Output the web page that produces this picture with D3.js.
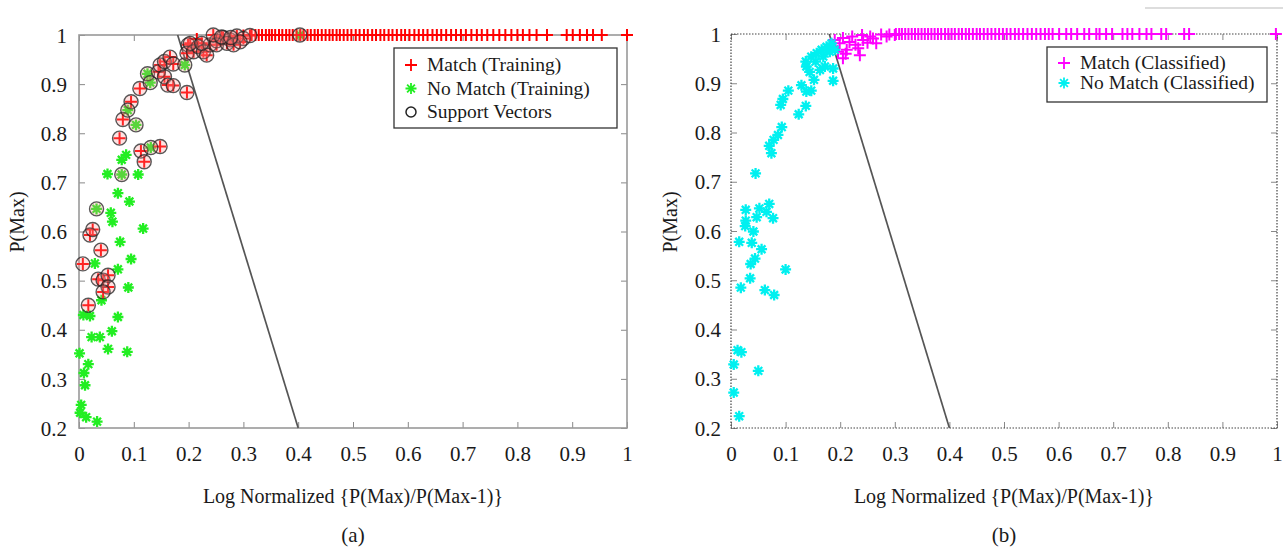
<!DOCTYPE html>
<html>
<head>
<meta charset="utf-8">
<script src="https://cdn.jsdelivr.net/npm/d3@7/dist/d3.min.js"></script>
<style>
 body { margin: 0; background: #fff; }
 svg { display: block; }
 text { font-family: "Liberation Serif", "Times New Roman", Times, serif; fill: #1a1a1a; }
 .tick line { stroke: #888; }
</style>
</head>
<body>
<svg width="1283" height="549"></svg>
<script>
// ---- data ----
const xTicks = [0, 0.1, 0.2, 0.3, 0.4, 0.5, 0.6, 0.7, 0.8, 0.9, 1];
const yTicks = [0.2, 0.3, 0.4, 0.5, 0.6, 0.7, 0.8, 0.9, 1];
const boundary = [[0.18, 1], [0.4, 0.2]];

// (a) training
const matchTraining = [
 [0.007, 0.534], [0.017, 0.45], [0.02, 0.593], [0.025, 0.604], [0.04, 0.562],
 [0.035, 0.503], [0.044, 0.501], [0.053, 0.511], [0.053, 0.487], [0.044, 0.477],
 [0.074, 0.79], [0.08, 0.828], [0.095, 0.864], [0.111, 0.891], [0.113, 0.764],
 [0.119, 0.742], [0.148, 0.773], [0.145, 0.925], [0.148, 0.939], [0.156, 0.946],
 [0.166, 0.955], [0.172, 0.941], [0.156, 0.915], [0.162, 0.898], [0.172, 0.897],
 [0.197, 0.883], [0.199, 0.98], [0.197, 0.963], [0.209, 0.966], [0.218, 0.976],
 [0.227, 0.966], [0.239, 0.98], [0.251, 0.988], [0.263, 0.995], [0.276, 0.99],
 [0.288, 0.998], [0.3, 0.993], [0.312, 0.999], [0.203, 0.983], [0.233, 0.959],
 [0.251, 0.98], [0.27, 0.983], [0.282, 0.98], [0.294, 0.986], [0.224, 0.983],
 [0.245, 1.0], [0.26, 0.996], [0.277, 0.995], [0.3, 0.999], [0.215, 0.992]
];
const matchTrainingBandX = [
 0.315, 0.322, 0.328, 0.334, 0.341, 0.347, 0.352, 0.358, 0.365, 0.371, 0.378, 0.384,
 0.39, 0.397, 0.404, 0.41, 0.417, 0.423, 0.43, 0.436, 0.443, 0.45, 0.457, 0.463,
 0.47, 0.476, 0.483, 0.49, 0.497, 0.505, 0.512, 0.52, 0.527, 0.535, 0.542, 0.55,
 0.557, 0.565, 0.572, 0.58, 0.588, 0.595, 0.603, 0.612, 0.62, 0.628, 0.636, 0.645,
 0.653, 0.661, 0.67, 0.679, 0.688, 0.697, 0.706, 0.716, 0.726, 0.735, 0.745, 0.756,
 0.767, 0.778, 0.789, 0.8, 0.81, 0.822, 0.835, 0.854, 0.89, 0.901, 0.914, 0.927,
 0.938, 0.954, 1.0
];
const noMatchTraining = [
 [0.032, 0.646], [0.058, 0.638], [0.061, 0.62], [0.117, 0.606], [0.075, 0.579],
 [0.029, 0.535], [0.095, 0.544], [0.071, 0.523], [0.09, 0.486], [0.041, 0.46],
 [0.008, 0.43], [0.02, 0.428], [0.071, 0.426], [0.06, 0.397], [0.023, 0.385],
 [0.038, 0.385], [0.053, 0.361], [0.088, 0.355], [0.001, 0.352], [0.017, 0.33],
 [0.009, 0.312], [0.011, 0.287], [0.004, 0.247], [0.002, 0.231], [0.013, 0.222],
 [0.033, 0.213], [0.086, 0.756], [0.078, 0.746], [0.052, 0.717], [0.108, 0.716],
 [0.071, 0.678], [0.092, 0.661], [0.089, 0.847], [0.104, 0.817], [0.131, 0.771],
 [0.078, 0.716], [0.125, 0.921], [0.13, 0.903], [0.193, 0.939], [0.403, 1.0]
];
const supportVectors = [
 [0.007, 0.534], [0.017, 0.45], [0.02, 0.593], [0.025, 0.604], [0.04, 0.562],
 [0.035, 0.503], [0.044, 0.501], [0.053, 0.511], [0.053, 0.487], [0.044, 0.477],
 [0.032, 0.646], [0.074, 0.79], [0.08, 0.828], [0.095, 0.864], [0.111, 0.891],
 [0.113, 0.764], [0.119, 0.742], [0.148, 0.773], [0.089, 0.847], [0.104, 0.817],
 [0.131, 0.771], [0.078, 0.716], [0.125, 0.921], [0.13, 0.903], [0.145, 0.925],
 [0.148, 0.939], [0.156, 0.946], [0.166, 0.955], [0.172, 0.941], [0.156, 0.915],
 [0.162, 0.898], [0.172, 0.897], [0.197, 0.883], [0.193, 0.939], [0.199, 0.98],
 [0.197, 0.963], [0.209, 0.966], [0.218, 0.976], [0.227, 0.966], [0.239, 0.98],
 [0.251, 0.988], [0.263, 0.995], [0.276, 0.99], [0.288, 0.998], [0.3, 0.993],
 [0.312, 0.999], [0.203, 0.983], [0.233, 0.959], [0.251, 0.98], [0.27, 0.983],
 [0.282, 0.98], [0.294, 0.986], [0.224, 0.983], [0.245, 1.0], [0.26, 0.996],
 [0.277, 0.995], [0.403, 1.0]
];

// (b) classified
const matchClassified = [
 [0.205, 0.951], [0.236, 0.957], [0.196, 0.964], [0.212, 0.968], [0.233, 0.971],
 [0.266, 0.981], [0.199, 0.981], [0.217, 0.984], [0.242, 0.988], [0.26, 0.991],
 [0.285, 0.995], [0.3, 0.998], [0.19, 0.988], [0.205, 0.992], [0.222, 0.995],
 [0.24, 0.998], [0.255, 0.995], [0.275, 0.999], [0.29, 0.999], [0.186, 0.975],
 [0.228, 0.978], [0.25, 0.982], [0.21, 0.96]
];
const matchClassifiedBandX = [
 0.302, 0.308, 0.313, 0.319, 0.325, 0.331, 0.337, 0.343, 0.349, 0.355, 0.361, 0.367,
 0.373, 0.379, 0.385, 0.392, 0.398, 0.404, 0.41, 0.417, 0.423, 0.43, 0.436, 0.443,
 0.45, 0.456, 0.463, 0.47, 0.477, 0.484, 0.491, 0.498, 0.505, 0.512, 0.52, 0.527,
 0.535, 0.543, 0.551, 0.559, 0.567, 0.575, 0.582, 0.589, 0.601, 0.614, 0.623, 0.634,
 0.647, 0.656, 0.669, 0.675, 0.687, 0.698, 0.717, 0.726, 0.735, 0.748, 0.761, 0.77,
 0.788, 0.797, 0.83, 0.839, 0.998
];
const noMatchClassified = [
 [0.027, 0.643], [0.052, 0.646], [0.07, 0.655], [0.065, 0.639], [0.077, 0.626],
 [0.047, 0.628], [0.027, 0.621], [0.026, 0.61], [0.041, 0.599], [0.015, 0.578],
 [0.038, 0.576], [0.056, 0.563], [0.044, 0.544], [0.036, 0.533], [0.035, 0.504],
 [0.1, 0.522], [0.018, 0.485], [0.062, 0.48], [0.079, 0.47], [0.012, 0.358],
 [0.019, 0.354], [0.005, 0.329], [0.05, 0.316], [0.005, 0.272], [0.015, 0.224],
 [0.045, 0.717], [0.074, 0.758], [0.07, 0.773], [0.078, 0.785], [0.086, 0.795],
 [0.093, 0.811], [0.091, 0.856], [0.095, 0.868], [0.105, 0.885], [0.124, 0.837],
 [0.137, 0.854], [0.129, 0.896], [0.138, 0.883], [0.147, 0.885], [0.152, 0.907],
 [0.144, 0.923], [0.163, 0.927], [0.172, 0.934], [0.187, 0.93], [0.187, 0.905],
 [0.137, 0.944], [0.138, 0.934], [0.147, 0.954], [0.157, 0.961], [0.166, 0.968],
 [0.175, 0.974], [0.184, 0.981], [0.155, 0.944], [0.169, 0.954], [0.181, 0.964],
 [0.19, 0.968]
];

const svg = d3.select("svg");
const serif = "'Liberation Serif', 'Times New Roman', Times, serif";

const plusPath = "M-6,0H6M0,-6V6";
const starPath = "M-5.5,0H5.5M0,-5.5V5.5M-3.9,-3.9L3.9,3.9M-3.9,3.9L3.9,-3.9";

function drawPanel(p) {
 const x = d3.scaleLinear().domain([0, 1]).range([p.left, p.right]);
 const y = d3.scaleLinear().domain([0.2, 1]).range([p.bottom, p.top]);
 const g = svg.append("g");

 // inside ticks on all four sides
 const tb = g.append("g").attr("transform", `translate(0,${p.bottom})`)
  .call(d3.axisBottom(x).tickValues(xTicks).tickSize(-6).tickPadding(18)
   .tickFormat(d => d3.format("")(d)));
 const tt = g.append("g").attr("transform", `translate(0,${p.top})`)
  .call(d3.axisTop(x).tickValues(xTicks).tickSize(-6).tickFormat(""));
 const tl = g.append("g").attr("transform", `translate(${p.left},0)`)
  .call(d3.axisLeft(y).tickValues(yTicks).tickSize(-6).tickPadding(p.yPad)
   .tickFormat(d => d3.format("")(d)));
 const tr = g.append("g").attr("transform", `translate(${p.right},0)`)
  .call(d3.axisRight(y).tickValues(yTicks).tickSize(-6).tickFormat(""));
 [tb, tt, tl, tr].forEach(a => {
  a.attr("font-family", serif);
  a.select(".domain").remove();
  a.selectAll("text").attr("font-size", 21).attr("fill", "#1a1a1a");
 });
 tl.selectAll("text").attr("dy", "0.34em");

 // frame
 g.append("rect")
  .attr("x", p.left).attr("y", p.top)
  .attr("width", p.right - p.left).attr("height", p.bottom - p.top)
  .attr("fill", "none")
  .attr("stroke", p.frameColor)
  .attr("stroke-width", p.frameWidth)
  .attr("stroke-dasharray", p.frameDash);

 // decision line
 g.append("line")
  .attr("x1", x(boundary[0][0])).attr("y1", y(boundary[0][1]))
  .attr("x2", x(boundary[1][0])).attr("y2", y(boundary[1][1]))
  .attr("stroke", "#555").attr("stroke-width", 1.7);

 p.series.forEach(s => {
  g.append("g").selectAll("path")
   .data(s.data).enter().append("path")
   .attr("transform", d => `translate(${x(d[0])},${y(d[1])})`)
   .attr("d", s.shape === "plus" ? plusPath : starPath)
   .attr("fill", "none")
   .attr("stroke", s.color)
   .attr("stroke-width", s.shape === "plus" ? 2 : 2.3);
 });

 if (p.circles) {
  g.append("g").selectAll("circle")
   .data(p.circles).enter().append("circle")
   .attr("cx", d => x(d[0])).attr("cy", d => y(d[1]))
   .attr("r", 7)
   .attr("fill", "rgba(255,140,140,0.25)")
   .attr("stroke", "#222").attr("stroke-opacity", 0.75)
   .attr("stroke-width", 1.4);
 }

 // axis titles
 svg.append("text")
  .attr("x", (p.left + p.right) / 2).attr("y", 503)
  .attr("text-anchor", "middle").attr("font-size", 20).attr("font-family", serif)
  .text("Log Normalized {P(Max)/P(Max-1)}");
 svg.append("text")
  .attr("transform", `translate(${p.yTitleX},222) rotate(-90)`)
  .attr("text-anchor", "middle").attr("font-size", 20).attr("font-family", serif)
  .text("P(Max)");
 svg.append("text")
  .attr("x", (p.left + p.right) / 2).attr("y", 542)
  .attr("text-anchor", "middle").attr("font-size", 21).attr("font-family", serif)
  .text(p.caption);

 // legend
 const lg = svg.append("g");
 lg.append("rect")
  .attr("x", p.legend.x).attr("y", p.legend.y)
  .attr("width", p.legend.w).attr("height", p.legend.h)
  .attr("fill", "#fff").attr("stroke", "#333").attr("stroke-width", 1.3);
 p.legend.items.forEach((it, i) => {
  const cy = p.legend.y + p.legend.first + i * p.legend.step;
  const sx = p.legend.x + 17;
  if (it.shape === "circle") {
   lg.append("circle").attr("cx", sx).attr("cy", cy).attr("r", 5)
    .attr("fill", "none").attr("stroke", "#222").attr("stroke-width", 1.5);
  } else {
   lg.append("path").attr("transform", `translate(${sx},${cy})`)
    .attr("d", it.shape === "plus" ? plusPath : starPath)
    .attr("fill", "none").attr("stroke", it.color).attr("stroke-width", 1.8);
  }
  lg.append("text").attr("x", p.legend.x + 33).attr("y", cy + 6)
   .attr("font-size", 19.5).attr("font-family", serif).text(it.label);
 });
}

drawPanel({
 left: 79, right: 627, top: 35, bottom: 428, yPad: 12, yTitleX: 24,
 frameColor: "#999", frameWidth: 1.6, frameDash: null, caption: "(a)",
 series: [
  { data: noMatchTraining, shape: "star", color: "#22ee22" },
  { data: matchTraining, shape: "plus", color: "#ff0000" },
  { data: matchTrainingBandX.map(v => [v, 1]), shape: "plus", color: "#ff0000" }
 ],
 circles: supportVectors,
 legend: {
  x: 394, y: 48, w: 223, h: 80, first: 17, step: 23.5,
  items: [
   { label: "Match (Training)", shape: "plus", color: "#ff0000" },
   { label: "No Match (Training)", shape: "star", color: "#22ee22" },
   { label: "Support Vectors", shape: "circle" }
  ]
 }
});

drawPanel({
 left: 731, right: 1277, top: 34, bottom: 428, yPad: 10, yTitleX: 677,
 frameColor: "#444", frameWidth: 1.2, frameDash: "1.5,1.5", caption: "(b)",
 series: [
  { data: matchClassified, shape: "plus", color: "#ff00ff" },
  { data: matchClassifiedBandX.map(v => [v, 1]), shape: "plus", color: "#ff00ff" },
  { data: noMatchClassified, shape: "star", color: "#00f0f0" }
 ],
 legend: {
  x: 1047, y: 47, w: 220, h: 55, first: 16, step: 20,
  items: [
   { label: "Match (Classified)", shape: "plus", color: "#ff00ff" },
   { label: "No Match (Classified)", shape: "star", color: "#00f0f0" }
  ]
 }
});

// stray rule at the top right of the scan
svg.append("line").attr("x1", 1145).attr("x2", 1283).attr("y1", 8).attr("y2", 8)
 .attr("stroke", "#bbb").attr("stroke-width", 1);
</script>
</body>
</html>
